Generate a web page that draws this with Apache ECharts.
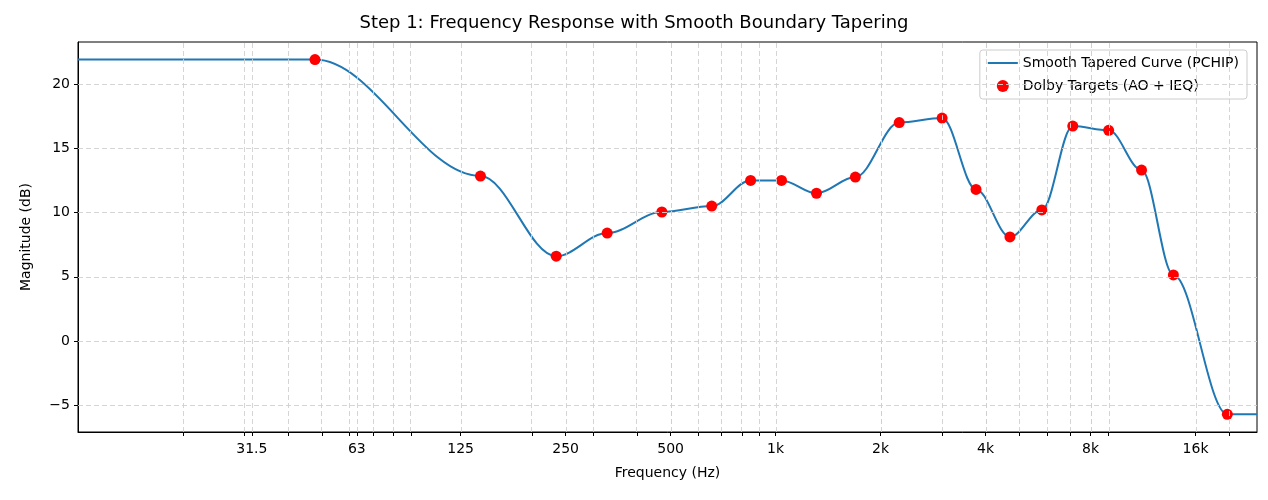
<!DOCTYPE html>
<html><head><meta charset="utf-8">
<script src="https://cdn.jsdelivr.net/npm/echarts@6/dist/echarts.min.js"></script>
<style>html,body{margin:0;padding:0;background:#fff}#c{width:1268px;height:500px}</style>
</head><body><div id="c"></div>
<script>
const targetFreq = [47.8,142.5,235,329,472,656,848,1040,1310,1693,2262,3002,3755,4697,5799,7112,9013,11200,13820,19730];
const targetDb = [21.9,12.84,6.6,8.4,10.04,10.5,12.5,12.5,11.5,12.76,17.0,17.35,11.8,8.1,10.2,16.73,16.4,13.3,5.14,-5.7];
const edgeFreq = [10,24000];
const edgeDb = [21.9,-5.7];
const tickFreq = [31.5,63,125,250,500,1000,2000,4000,8000,16000];
const tickLabels = ['31.5','63','125','250','500','1k','2k','4k','8k','16k'];
const minorFreq = [20,30,40,50,60,70,80,90,200,300,400,500,600,700,800,900,2000,3000,4000,5000,6000,7000,8000,9000,20000];
const yTicks = [-5,0,5,10,15,20];

const L = Math.log2;
const curve = [[L(edgeFreq[0]),edgeDb[0]]].concat(targetFreq.map((f,i)=>[L(f),targetDb[i]])).concat([[L(edgeFreq[1]),edgeDb[1]]]);
const labelMap = {}; tickFreq.forEach((f,i)=>labelMap[L(f).toFixed(6)]=tickLabels[i]);
const gridX = minorFreq.concat(tickFreq).map(f=>({xAxis:L(f)}));
const gridY = yTicks.map(v=>({yAxis:v}));
const dash = {color:'#d0d0d0',type:[5,3],width:0.9};
const font = 'DejaVu Sans';
const chart = echarts.init(document.getElementById('c'));
chart.setOption({
  animation:false,
  title:{text:'Step 1: Frequency Response with Smooth Boundary Tapering',left:'center',top:9,textStyle:{fontFamily:font,fontSize:18,fontWeight:'normal',color:'#000'}},
  grid:{left:78,right:11,top:42,bottom:68,show:true,borderColor:'#000',borderWidth:1,backgroundColor:'transparent'},
  legend:{right:21,top:50,orient:'vertical',backgroundColor:'#fff',borderColor:'#ccc',borderWidth:1,borderRadius:3,padding:[6,8],itemGap:9,
    textStyle:{fontFamily:font,fontSize:14,color:'#000'},
    data:[{name:'Smooth Tapered Curve (PCHIP)',icon:'path://M0,0 L30,0 L30,2 L0,2 Z',itemStyle:{opacity:1}},{name:'Dolby Targets (AO + IEQ)',icon:'circle'}],itemWidth:30,itemHeight:12},
  xAxis:{type:'value',min:L(10),max:L(24000),name:'Frequency (Hz)',nameLocation:'middle',nameGap:34,
    nameTextStyle:{fontFamily:font,fontSize:14,color:'#000'},
    axisLine:{onZero:false,lineStyle:{color:'#000'}},splitLine:{show:false},
    axisTick:{customValues:minorFreq.concat(tickFreq).map(L),length:4,lineStyle:{color:'#000'}},
    axisLabel:{customValues:tickFreq.map(L),formatter:v=>labelMap[v.toFixed(6)]||'',fontFamily:font,fontSize:14,color:'#000',margin:10}},
  yAxis:{type:'value',min:-7.08,max:23.27,name:'Magnitude (dB)',nameLocation:'middle',nameGap:45,
    nameTextStyle:{fontFamily:font,fontSize:14,color:'#000'},
    axisLine:{show:true,onZero:false,lineStyle:{color:'#000'}},splitLine:{show:false},
    axisTick:{show:true,customValues:yTicks,length:4,lineStyle:{color:'#000'}},
    axisLabel:{customValues:yTicks,formatter:v=>v<0?'\u2212'+(-v):String(v),fontFamily:font,fontSize:14,color:'#000'}},
  series:[
    {name:'Smooth Tapered Curve (PCHIP)',type:'line',data:curve,smooth:0.35,smoothMonotone:'x',showSymbol:false,lineStyle:{color:'#1f77b4',width:2},itemStyle:{color:'#1f77b4'},
      markLine:{silent:true,symbol:'none',label:{show:false},lineStyle:dash,animation:false,data:gridX.concat(gridY)},z:3},
    {name:'Dolby Targets (AO + IEQ)',type:'scatter',data:targetFreq.map((f,i)=>[L(f),targetDb[i]]),symbolSize:11,itemStyle:{color:'#ff0000',opacity:1},z:4}
  ]
});
</script></body></html>
